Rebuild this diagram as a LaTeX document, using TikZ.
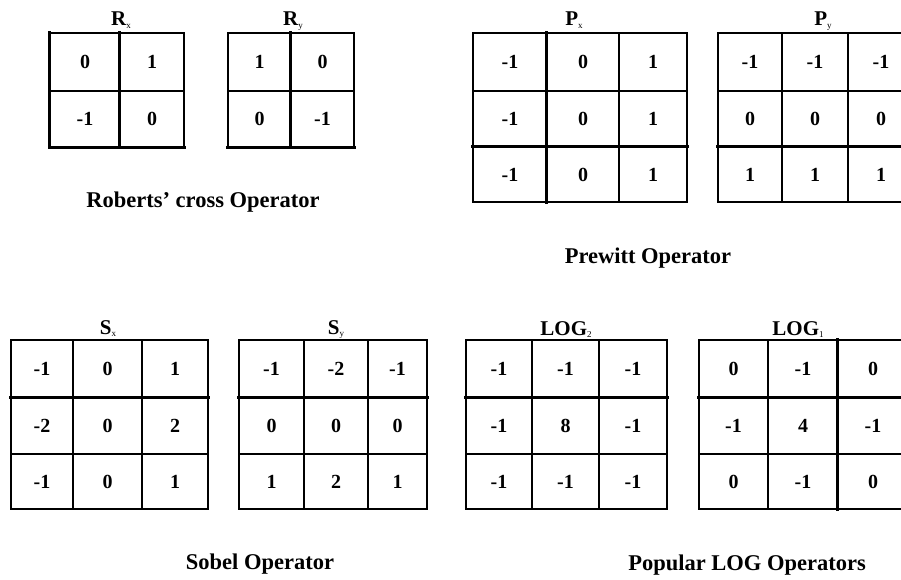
\documentclass[tikz,border=0pt]{standalone}
\usepackage{fontspec}
\setmainfont{Liberation Serif}
\newcommand\ksub[1]{\raisebox{-2.5pt}{\fontsize{9}{9}\selectfont\mdseries #1}}
\tikzset{
  cell/.style={draw, line width=1.2pt, inner sep=0pt, font=\fontsize{20}{20}\selectfont\bfseries},
  thickline/.style={line width=3.4pt, line cap=rect},
  lbl/.style={inner sep=0pt, anchor=base, font=\fontsize{21}{21}\selectfont\bfseries},
  captext/.style={inner sep=0pt, anchor=base, font=\fontsize{22.5}{22.5}\selectfont\bfseries},
}
\newcommand\ktable[5]{%
  \foreach \v [count=\i from 0] in {#5} {
    \pgfmathtruncatemacro\r{floor(\i/#2)}
    \pgfmathtruncatemacro\c{mod(\i,#2)}
    \pgfmathsetmacro\xl{{#3}[\c]}
    \pgfmathsetmacro\xr{{#3}[\c+1]}
    \pgfmathsetmacro\yt{{#4}[\r]}
    \pgfmathsetmacro\yb{{#4}[\r+1]}
    \node[cell, minimum width={\xr-\xl}, minimum height={\yb-\yt}]
      (#1-\r-\c) at ({(\xl+\xr)/2},{(\yt+\yb)/2}) {\v};
  }%
}
\begin{document}
\begin{tikzpicture}[x=1pt,y=-1pt]
\useasboundingbox (0,0) rectangle (901,580);
\clip (0,0) rectangle (901,580);
\fill[white] (0,0) rectangle (901,580);

% Roberts
\ktable{rx}{2}{50,120,184}{33,91,147}{0,1,-1,0}
\ktable{ry}{2}{228,291,354}{33,91,147}{1,0,0,-1}
\draw[thickline] (rx-0-0.north west) -- (rx-1-0.south west);
\draw[thickline] (rx-0-1.north west) -- (rx-1-1.south west);
\draw[thickline] (rx-1-0.south west) -- (rx-1-1.south east);
\draw[thickline] (ry-0-1.north west) -- (ry-1-1.south west);
\draw[thickline] (ry-1-0.south west) -- (ry-1-1.south east);
\node[lbl] (lrx) at (121,26) {R\ksub{x}};
\node[lbl] (lry) at (293,26) {R\ksub{y}};
\node[captext] (croberts) at (203,207) {Roberts' cross Operator};

% Prewitt
\ktable{px}{3}{473,547,619,687}{33,91,147,202}{-1,0,1,-1,0,1,-1,0,1}
\ktable{py}{3}{718,782,848,914}{33,91,147,202}{-1,-1,-1,0,0,0,1,1,1}
\draw[thickline] (px-0-1.north west) -- (px-2-1.south west);
\draw[thickline] (px-2-0.north west) -- (px-2-2.north east);
\draw[thickline] (py-2-0.north west) -- (py-2-2.north east);
\node[lbl] (lpx) at (574,26) {P\ksub{x}};
\node[lbl] (lpy) at (823,26) {P\ksub{y}};
\node[captext] (cprewitt) at (648,263) {Prewitt Operator};

% Sobel
\ktable{sx}{3}{11,73,142,208}{340,398,454,509}{-1,0,1,-2,0,2,-1,0,1}
\ktable{sy}{3}{239,304,368,427}{340,398,454,509}{-1,-2,-1,0,0,0,1,2,1}
\draw[thickline] (sx-1-0.north west) -- (sx-1-2.north east);
\draw[thickline] (sy-1-0.north west) -- (sy-1-2.north east);
\node[lbl] (lsx) at (108,334) {S\ksub{x}};
\node[lbl] (lsy) at (336,334) {S\ksub{y}};
\node[captext] (csobel) at (260,569) {Sobel Operator};

% LOG
\ktable{lg}{3}{466,532,599,667}{340,398,454,509}{-1,-1,-1,-1,8,-1,-1,-1,-1}
\ktable{lo}{3}{699,768,838,908}{340,398,454,509}{0,-1,0,-1,4,-1,0,-1,0}
\draw[thickline] (lg-1-0.north west) -- (lg-1-2.north east);
\draw[thickline] (lo-1-0.north west) -- (lo-1-2.north east);
\draw[thickline] (lo-0-2.north west) -- (lo-2-2.south west);
\node[lbl] (llg) at (566,335) {LOG\ksub{2}};
\node[lbl] (llo) at (798,335) {LOG\ksub{1}};
\node[captext] (clog) at (747,570) {Popular LOG Operators};
\end{tikzpicture}
\end{document}
